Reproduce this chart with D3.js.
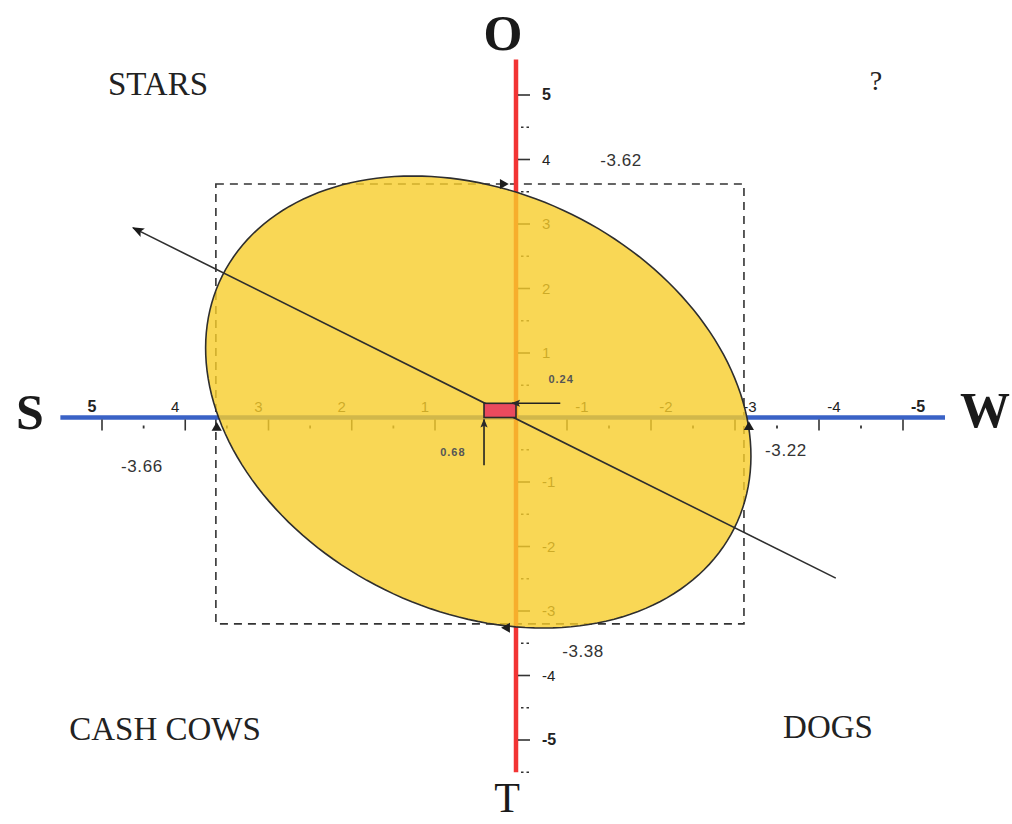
<!DOCTYPE html>
<html><head><meta charset="utf-8">
<script src="https://cdn.jsdelivr.net/npm/d3@7"></script>
<style>body{margin:0;background:#fff}</style>
</head><body><svg id="c" width="1012" height="824"></svg>
<script>
// ---- data ----
const xTickValues = [5, 4, 3, 2, 1, -1, -2, -3, -4, -5];
const xMinorValues = [4.5, 3.5, 2.5, 1.5, -1.5, -2.5, -3.5, -4.5];
const yTickValues = [5, 4, 3, 2, 1, -1, -2, -3, -4, -5];
const yMinorValues = [4.5, 3.5, 2.5, 1.5, 0.5, -0.5, -1.5, -2.5, -3.5, -4.5, -5.5];
const xAxisExtent = [5.5, -5.5];
const yAxisExtent = [5.55, -5.5];
const interceptBox = [3.66, -2.78, 3.62, -3.2];          // left, right, top, bottom
const interceptLabels = ["-3.66", "-3.22", "-3.62", "-3.38"];
const ellipseCenter = [0.46, 0.24];
const ellipseRadii = [3.81, 2.97];
const ellipseAngle = [51.2];
const trendLine = [[-3.9, -2.49], [4.67, 2.94]];
const centerRect = [0.39, 0.22];
const centerLabels = ["0.68", "0.24"];
const quadrantLabels = ["STARS", "?", "CASH COWS", "DOGS"];
const poleLabels = ["O", "S", "W", "T"];
const interceptMarkers = [[0.16, 3.62, 90], [0.11, -3.26, -90], [3.65, -0.16, 0], [-2.84, -0.15, 0]];

// ---- scales ----
const svg = d3.select("#c");
const xTick = d3.scaleLinear().domain([5, 1, 0, -1, -5]).range([102, 435, 516, 567, 903]);
const xP = d3.scaleLinear().domain([0, 1]).range([516, 434]);
const y = d3.scaleLinear().domain([-5, 5]).range([740, 95]);
const X0 = xTick(0), Y0 = y(0);

const defs = svg.append("defs");
defs.append("marker").attr("id", "ah").attr("viewBox", "0 0 10 10").attr("refX", 9).attr("refY", 5)
  .attr("markerWidth", 9).attr("markerHeight", 9).attr("markerUnits", "userSpaceOnUse").attr("orient", "auto")
  .append("path").attr("d", "M0,1 L10,5 L0,9 L2,5 Z").attr("fill", "#2b2b2b");
defs.append("marker").attr("id", "ah2").attr("viewBox", "0 0 10 10").attr("refX", 9).attr("refY", 5)
  .attr("markerWidth", 12).attr("markerHeight", 12).attr("markerUnits", "userSpaceOnUse").attr("orient", "auto")
  .append("path").attr("d", "M0,1 L10,5 L0,9 L2,5 Z").attr("fill", "#1a1a1a");

// ---- dashed intercept box ----
svg.append("rect")
  .attr("x", xP(interceptBox[0])).attr("y", y(interceptBox[2]))
  .attr("width", xP(interceptBox[1]) - xP(interceptBox[0]))
  .attr("height", y(interceptBox[3]) - y(interceptBox[2]))
  .attr("fill", "none").attr("stroke", "#333").attr("stroke-width", 1.6).attr("stroke-dasharray", "8,6");

// ---- axes ----
const ax = svg.append("g");
ax.append("line").attr("x1", xTick(xAxisExtent[0])).attr("x2", xTick(xAxisExtent[1]))
  .attr("y1", Y0).attr("y2", Y0).attr("stroke", "#3a62c6").attr("stroke-width", 4.5);
ax.append("line").attr("x1", X0).attr("x2", X0)
  .attr("y1", y(yAxisExtent[0])).attr("y2", y(yAxisExtent[1])).attr("stroke", "#f23434").attr("stroke-width", 4.5);

// x ticks
ax.selectAll(".xt").data(xTickValues).join("line")
  .attr("x1", d => xTick(d)).attr("x2", d => xTick(d)).attr("y1", Y0 + 2).attr("y2", Y0 + 13)
  .attr("stroke", "#333").attr("stroke-width", 1.6);
ax.selectAll(".xm").data(xMinorValues).join("line")
  .attr("x1", d => xTick(d)).attr("x2", d => xTick(d)).attr("y1", Y0 + 8).attr("y2", Y0 + 11)
  .attr("stroke", "#333").attr("stroke-width", 1.8);
ax.selectAll(".xl").data(xTickValues).join("text")
  .attr("x", d => xTick(d) + (d > 0 ? -10 : 15)).attr("y", Y0 - 6)
  .attr("text-anchor", "middle").attr("font-family", "Liberation Sans, Arial, sans-serif")
  .attr("font-size", d => Math.abs(d) === 5 ? 16 : 15).attr("font-weight", d => Math.abs(d) === 5 ? "bold" : "normal")
  .attr("fill", "#222").text(d => d);

// y ticks
ax.selectAll(".yt").data(yTickValues).join("line")
  .attr("x1", X0 + 2).attr("x2", X0 + 14).attr("y1", d => y(d)).attr("y2", d => y(d))
  .attr("stroke", "#333").attr("stroke-width", 1.6);
ax.selectAll(".ym").data(yMinorValues).join("line")
  .attr("x1", X0 + 5).attr("x2", X0 + 14).attr("y1", d => y(d)).attr("y2", d => y(d))
  .attr("stroke", "#333").attr("stroke-width", 1.5).attr("stroke-dasharray", "2.5,3");
ax.selectAll(".yl").data(yTickValues).join("text")
  .attr("x", X0 + 26).attr("y", d => y(d) + 5)
  .attr("font-family", "Liberation Sans, Arial, sans-serif")
  .attr("font-size", d => Math.abs(d) === 5 ? 16 : 15).attr("font-weight", d => Math.abs(d) === 5 ? "bold" : "normal")
  .attr("fill", "#222").text(d => d);

// ---- ellipse ----
const A = ellipseAngle[0] * Math.PI / 180;
const ePts = d3.range(0, 2 * Math.PI, Math.PI / 90).map(t => {
  const ex = ellipseCenter[0] + ellipseRadii[0] * Math.cos(t) * Math.cos(A) - ellipseRadii[1] * Math.sin(t) * Math.sin(A);
  const ey = ellipseCenter[1] + ellipseRadii[0] * Math.cos(t) * Math.sin(A) + ellipseRadii[1] * Math.sin(t) * Math.cos(A);
  return [ex, ey];
});
svg.append("path")
  .attr("d", d3.line().x(d => xP(d[0])).y(d => y(d[1])).curve(d3.curveLinearClosed)(ePts))
  .attr("fill", "#f7cd2a").attr("fill-opacity", 0.8)
  .attr("stroke", "#2e2e2e").attr("stroke-width", 1.6);

// ---- trend arrow ----
svg.append("line")
  .attr("x1", xP(trendLine[0][0])).attr("y1", y(trendLine[0][1]))
  .attr("x2", xP(trendLine[1][0])).attr("y2", y(trendLine[1][1]))
  .attr("stroke", "#2e2e2e").attr("stroke-width", 1.6).attr("marker-end", "url(#ah2)");

// ---- centre rect and arrows ----
svg.append("rect")
  .attr("x", xP(centerRect[0])).attr("y", y(centerRect[1]))
  .attr("width", xP(0) - xP(centerRect[0])).attr("height", y(0) - y(centerRect[1]))
  .attr("fill", "#ea4a5e").attr("stroke", "#2a2a2a").attr("stroke-width", 1.6);
svg.append("line")
  .attr("x1", xP(centerRect[0])).attr("x2", xP(centerRect[0]))
  .attr("y1", y(-0.74)).attr("y2", y(0) + 2)
  .attr("stroke", "#222").attr("stroke-width", 1.6).attr("marker-end", "url(#ah)");
svg.append("line")
  .attr("x1", xP(-0.54)).attr("x2", xP(0) - 4)
  .attr("y1", y(centerRect[1])).attr("y2", y(centerRect[1]))
  .attr("stroke", "#222").attr("stroke-width", 1.6).attr("marker-end", "url(#ah)");
svg.append("text").attr("x", xP(-0.55)).attr("y", y(centerRect[1]) - 20)
  .attr("text-anchor", "middle").attr("font-family", "Liberation Sans, Arial, sans-serif")
  .attr("font-size", 11).attr("font-weight", "bold").attr("letter-spacing", 1).attr("fill", "#555").text(centerLabels[1]);
svg.append("text").attr("x", xP(0.77)).attr("y", y(-0.6))
  .attr("text-anchor", "middle").attr("font-family", "Liberation Sans, Arial, sans-serif")
  .attr("font-size", 11).attr("font-weight", "bold").attr("letter-spacing", 1).attr("fill", "#555").text(centerLabels[0]);

// ---- intercept markers ----
svg.selectAll(".im").data(interceptMarkers).join("path")
  .attr("d", d3.symbol().type(d3.symbolTriangle).size(45))
  .attr("transform", d => `translate(${xP(d[0])},${y(d[1])}) rotate(${d[2]})`)
  .attr("fill", "#1e1e1e");

// ---- intercept labels ----
const lblFont = "Liberation Sans, Arial, sans-serif";
const il = [
  [xP(interceptBox[0]) - 74, Y0 + 54, interceptLabels[0]],
  [xP(interceptBox[1]) + 42, Y0 + 38, interceptLabels[1]],
  [X0 + 105, y(interceptBox[2]) - 18, interceptLabels[2]],
  [X0 + 67, y(interceptBox[3]) + 33, interceptLabels[3]]
];
svg.selectAll(".il").data(il).join("text")
  .attr("x", d => d[0]).attr("y", d => d[1]).attr("text-anchor", "middle")
  .attr("font-family", lblFont).attr("font-size", 17).attr("letter-spacing", 0.6).attr("fill", "#333").text(d => d[2]);

// ---- quadrant labels ----
const serif = "Liberation Serif, Times New Roman, serif";
const ql = [[158, 95, 33], [876, 90, 28], [165, 740, 33], [828, 738, 33]];
svg.selectAll(".ql").data(quadrantLabels).join("text")
  .attr("x", (d, i) => ql[i][0]).attr("y", (d, i) => ql[i][1]).attr("font-size", (d, i) => ql[i][2])
  .attr("text-anchor", "middle").attr("font-family", serif).attr("fill", "#222").text(d => d);

// ---- pole letters ----
const pl = [[503, 50, "bold", 50], [30, 429, "bold", 50], [985, 427, "bold", 50], [507, 812, "normal", 42]];
svg.selectAll(".pl").data(poleLabels).join("text")
  .attr("x", (d, i) => pl[i][0]).attr("y", (d, i) => pl[i][1]).attr("font-weight", (d, i) => pl[i][2])
  .attr("font-size", (d, i) => pl[i][3]).attr("text-anchor", "middle").attr("font-family", serif).attr("fill", "#1a1a1a").text(d => d);
</script>
</body></html>
